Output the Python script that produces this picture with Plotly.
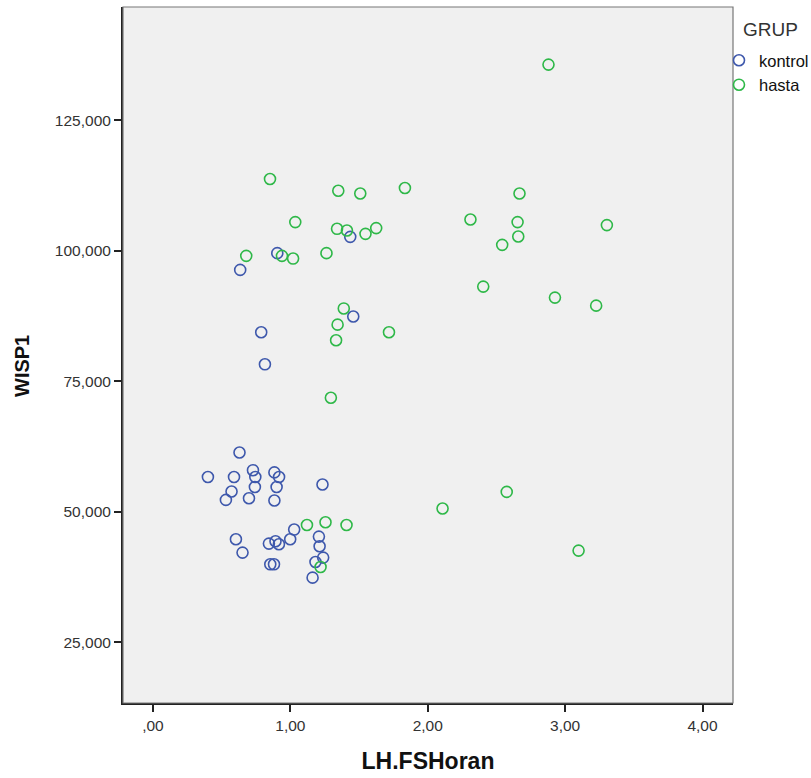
import plotly.graph_objects as go

# LH/FSH ratio vs WISP1, split by study group
kontrol_lh_fsh = [0.905, 0.635, 1.436, 1.458, 0.788, 0.815, 0.630, 0.728, 0.400, 0.590,
                  0.745, 0.884, 0.918, 1.234, 0.572, 0.742, 0.900, 0.531, 0.699, 0.884,
                  1.028, 0.999, 1.208, 0.604, 0.844, 0.892, 0.917, 1.213, 0.652, 1.239,
                  1.183, 0.854, 0.881, 1.162]
kontrol_wisp1 = [99520, 96315, 102647, 87393, 84362, 78222, 61337, 57941, 56637, 56637,
                 56637, 57519, 56637, 55198, 53855, 54718, 54718, 52243, 52569, 52128,
                 46564, 44702, 45220, 44702, 43877, 44319, 43743, 43359, 42150, 41191,
                 40347, 39906, 39906, 37354]

hasta_lh_fsh = [2.879, 0.852, 1.349, 1.509, 1.834, 2.668, 1.036, 1.340, 1.412, 1.547,
                1.625, 2.311, 2.654, 3.304, 2.659, 2.542, 0.679, 0.939, 1.020, 1.263,
                2.404, 2.926, 3.226, 1.389, 1.344, 1.718, 1.333, 1.295, 1.121, 1.256,
                1.409, 1.220, 2.108, 2.575, 3.098]
hasta_wisp1 = [135649, 113718, 111473, 110955, 112010, 110955, 105468, 104182, 103856, 103223,
               104317, 105967, 105468, 104892, 102705, 101112, 99002, 99002, 98484, 99520,
               93111, 91001, 89466, 88928, 85820, 84362, 82827, 71814, 47446, 47964,
               47446, 39388, 50593, 53778, 42534]

x_ticks = [0, 1, 2, 3, 4]
x_tick_labels = [",00", "1,00", "2,00", "3,00", "4,00"]
y_ticks = [25000, 50000, 75000, 100000, 125000]
y_tick_labels = ["25,000", "50,000", "75,000", "100,000", "125,000"]

FONT = "Liberation Sans, Arial, sans-serif"
BLUE = "#3E58AC"
GREEN = "#2EB848"

# plotting-area box in pixels
L, R, T, B = 123, 733, 7, 703
W, H = 811, 778

fig = go.Figure()
fig.add_trace(go.Scatter(
    x=kontrol_lh_fsh, y=kontrol_wisp1, mode="markers", name="kontrol",
    marker=dict(symbol="circle-open", size=11, color=BLUE, line=dict(width=1.6, color=BLUE)),
))
fig.add_trace(go.Scatter(
    x=hasta_lh_fsh, y=hasta_wisp1, mode="markers", name="hasta",
    marker=dict(symbol="circle-open", size=11, color=GREEN, line=dict(width=1.6, color=GREEN)),
))

fig.update_layout(
    width=W, height=H,
    margin=dict(l=L, r=W - R, t=T, b=H - B, autoexpand=False),
    paper_bgcolor="white",
    plot_bgcolor="#F0F0F0",
    font=dict(family=FONT, size=15.5, color="#333333"),
    showlegend=True,
    legend=dict(
        font=dict(size=16.5, color="#111111"),
        xref="container", yref="container",
        x=719 / W, xanchor="left", y=1 - 43 / H, yanchor="top",
        bgcolor="rgba(0,0,0,0)", tracegroupgap=0, itemwidth=30,
    ),
    xaxis=dict(
        range=[-0.218, 4.222],
        tickvals=x_ticks, ticktext=x_tick_labels,
        ticks="outside", ticklen=7, tickwidth=1.5, tickcolor="#222222",
        showgrid=False, zeroline=False,
        showline=True, linewidth=2, linecolor="#222222",
        title=dict(text="LH.FSHoran", font=dict(size=23, family=FONT, weight="bold", color="#111111"), standoff=20),
    ),
    yaxis=dict(
        range=[13335, 146681],
        tickvals=y_ticks, ticktext=y_tick_labels,
        ticks="outside", ticklen=7, tickwidth=1.5, tickcolor="#222222",
        showgrid=False, zeroline=False,
        showline=True, linewidth=2, linecolor="#222222",
    ),
)

# y-axis title
fig.add_annotation(
    text="WISP1", textangle=-90, xref="paper", yref="paper",
    x=(22 - L) / (R - L), xanchor="center", y=1 - (366 - T) / (B - T), yanchor="middle",
    showarrow=False, font=dict(size=20, color="#111111", family=FONT, weight="bold"),
)

# legend heading
fig.add_annotation(
    text="GRUP", xref="paper", yref="paper",
    x=(741 - L) / (R - L), xanchor="left", y=1 - (29.5 - T) / (B - T), yanchor="middle",
    showarrow=False, font=dict(size=19, color="#333333", family=FONT),
)

# thin grey frame on the top and right sides of the plotting area
fig.add_shape(type="rect", xref="paper", yref="paper", x0=0, y0=0, x1=1, y1=1,
              line=dict(color="#777777", width=1.2), layer="above")

fig.write_html("out.html")
